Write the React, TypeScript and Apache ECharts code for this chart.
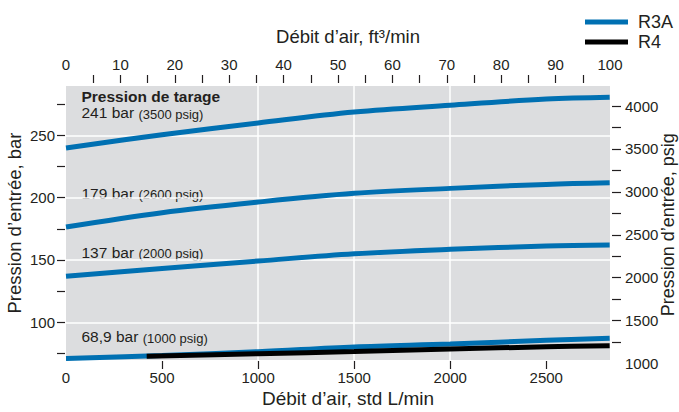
import React, { useEffect, useRef } from 'react';
import * as echarts from 'echarts';

// Flow, std L/min (bottom axis); top axis is the same flow in ft³/min (0–100)
const flowLpm = [0, 500, 1000, 1500, 2000, 2500, 2830];
const r3a241 = [240, 250.6, 260, 268.8, 274.3, 279.2, 280.7];
const r3a179 = [176.5, 188, 196.5, 203.5, 207.5, 210.7, 212];
const r3a137 = [137, 143.2, 149.2, 155, 158.6, 161.2, 162];
const r3a69 = [71, 73.3, 76.4, 80.2, 82.6, 85.5, 87.2];
const r4Flow = [420, 1000, 1500, 2000, 2500, 2830];
const r4p69 = [72.8, 74.7, 76.5, 78.5, 80.3, 81.1];

const bottomTicks = [500, 1000, 1500, 2000, 2500];
const bottomLabels = [0, 500, 1000, 1500, 2000, 2500];
const topTicks = [5, 10, 15, 20, 25, 30, 35, 40, 45, 50, 55, 60, 65, 70, 75, 80, 85, 90, 95];
const topLabels = [0, 10, 20, 30, 40, 50, 60, 70, 80, 90, 100];
const leftTicks = [75, 100, 125, 150, 175, 200, 225, 250, 275];
const leftLabels = [100, 150, 200, 250];
const rightTicks = [1250, 1500, 1750, 2000, 2250, 2500, 2750, 3000, 3250, 3500, 3750, 4000];
const rightLabels = [1000, 1500, 2000, 2500, 3000, 3500, 4000];

const setTitle = 'Pression de tarage';
const setBar = ['241 bar', '179 bar', '137 bar', '68,9 bar'];
const setPsig = ['(3500 psig)', '(2600 psig)', '(2000 psig)', '(1000 psig)'];

const BLUE = '#0070b2';
const INK = '#231f20';
const FONT = '"Liberation Sans", Arial, Helvetica, sans-serif';

export default function App() {
  const ref = useRef<HTMLDivElement>(null);
  useEffect(() => {
    if (!ref.current) return;
    const chart = echarts.init(ref.current, undefined, { renderer: 'svg' });
    const pair = (xs: number[], ys: number[]) => xs.map((x, i) => [x, ys[i]]);
    const tickStyle = { show: true, inside: false, length: 8, lineStyle: { color: INK, width: 1.2 } };
    const noLine = { show: false, onZero: false };
    const labelBase = { color: INK, fontSize: 15, fontFamily: FONT, formatter: (v: number) => String(v) };
    const nameStyle = { fontSize: 18.5, color: INK, fontFamily: FONT };
    const lineSeries = (name: string, data: number[][], color: string, z: number) => ({
      type: 'line', name, data, symbol: 'none', smooth: 0.35, z,
      xAxisIndex: 0, yAxisIndex: 0,
      lineStyle: { width: 5, color, cap: 'butt' }, itemStyle: { color },
    });
    const rich = {
      h: { fontSize: 15.5, fontWeight: 'bold', fontFamily: FONT, fill: INK, lineHeight: 9.5, verticalAlign: 'bottom' },
      a: { fontSize: 15.5, fontFamily: FONT, fill: INK, lineHeight: 14, verticalAlign: 'bottom' },
      b: { fontSize: 13, fontFamily: FONT, fill: INK, lineHeight: 14, verticalAlign: 'bottom' },
    };
    const labelYs = [120.5, 201, 260, 344.5];
    const graphic: any[] = setBar.map((b, i) => ({
      type: 'text', x: 81.5, y: labelYs[i],
      style: {
        text: (i === 0 ? `{h|${setTitle}}\n` : '') + `{a|${b}} {b|${setPsig[i]}}`,
        fill: INK, verticalAlign: 'bottom', font: `15.5px ${FONT}`, rich,
      },
    }));
    chart.setOption({
      animation: false,
      textStyle: { fontFamily: FONT, color: INK },
      grid: [
        {
          left: 66, right: 69, top: 86, bottom: 52, show: true, backgroundColor: '#dcdddf',
          borderWidth: 0, containLabel: false, outerBoundsMode: 'none',
        },
        { left: 66, right: 69, top: 86, height: 277.6, show: false, containLabel: false, outerBoundsMode: 'none' },
      ],
      legend: {
        data: ['R3A', 'R4'], orient: 'vertical', left: 580, top: 8, icon: 'rect',
        itemWidth: 43, itemHeight: 5, itemGap: 2, selectedMode: false,
        textStyle: { fontSize: 18, color: INK, fontFamily: FONT, padding: [0, 0, 0, 5] },
      },
      xAxis: [
        {
          type: 'value', gridIndex: 0, position: 'bottom', min: 0, max: 2831.7, interval: 500, offset: 1,
          name: 'Débit d’air, std L/min', nameLocation: 'middle', nameGap: 28, nameMoveOverlap: false,
          nameTextStyle: { ...nameStyle, fontSize: 19, padding: [0, 0, 0, 20] },
          axisLine: noLine,
          axisTick: { ...tickStyle, customValues: bottomTicks },
          axisLabel: { ...labelBase, margin: 9, customValues: bottomLabels },
          splitLine: { show: true, showMinLine: false, showMaxLine: false, lineStyle: { color: '#ffffff', width: 1.5 } },
        },
        {
          type: 'value', gridIndex: 0, position: 'top', min: 0, max: 100, offset: 3,
          name: 'Débit d’air, ft³/min', nameLocation: 'middle', nameGap: 37, nameMoveOverlap: false,
          nameTextStyle: { ...nameStyle, padding: [0, 0, 0, 20] },
          axisLine: noLine,
          axisTick: { ...tickStyle, customValues: topTicks },
          axisLabel: { ...labelBase, margin: 11, customValues: topLabels },
          splitLine: { show: false },
        },
        { type: 'value', gridIndex: 1, show: false, min: 0, max: 1, axisLine: noLine },
      ],
      yAxis: [
        {
          type: 'value', gridIndex: 0, position: 'left', min: 69.7, max: 289.7, offset: 1,
          name: 'Pression d’entrée, bar', nameLocation: 'middle', nameGap: 41, nameMoveOverlap: false,
          nameTextStyle: nameStyle,
          axisLine: noLine,
          axisTick: { ...tickStyle, customValues: leftTicks },
          axisLabel: { ...labelBase, margin: 10, customValues: leftLabels },
          splitLine: { show: false },
        },
        {
          type: 'value', gridIndex: 1, position: 'right', min: 1000, max: 4233, offset: 2,
          name: 'Pression d’entrée, psig', nameLocation: 'middle', nameGap: 47, nameMoveOverlap: false,
          nameTextStyle: { ...nameStyle, fontSize: 18 },
          axisLine: noLine,
          axisTick: { ...tickStyle, length: 9, customValues: rightTicks },
          axisLabel: { ...labelBase, margin: 13, customValues: rightLabels },
          splitLine: { show: false },
        },
        {
          type: 'value', gridIndex: 0, position: 'right', min: 69.7, max: 289.7, splitNumber: 5,
          axisLine: noLine, axisTick: { show: false }, axisLabel: { show: false },
          splitLine: { show: true, showMinLine: false, showMaxLine: false, lineStyle: { color: '#ffffff', width: 1.5 } },
        },
      ],
      graphic,
      series: [
        lineSeries('R3A', pair(flowLpm, r3a241), BLUE, 3),
        lineSeries('R3A', pair(flowLpm, r3a179), BLUE, 3),
        lineSeries('R3A', pair(flowLpm, r3a137), BLUE, 3),
        lineSeries('R3A', pair(flowLpm, r3a69), BLUE, 3),
        lineSeries('R4', pair(r4Flow, r4p69), '#000000', 4),
      ],
    });
    return () => chart.dispose();
  }, []);
  return <div ref={ref} style={{ position: 'absolute', left: 0, top: 0, width: 679, height: 412 }} />;
}
